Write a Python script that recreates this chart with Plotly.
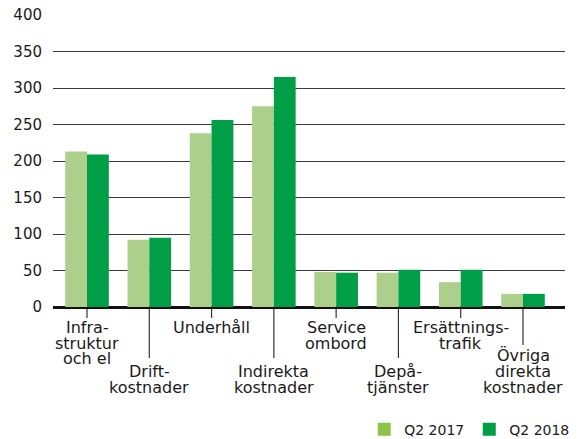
import plotly.graph_objects as go

# ---- data ----
categories = ["Infrastruktur och el", "Driftkostnader", "Underhåll", "Indirekta kostnader",
              "Service ombord", "Depåtjänster", "Ersättningstrafik", "Övriga direkta kostnader"]
label_lines = [["Infra-", "struktur", "och el"], ["Drift-", "kostnader"], ["Underhåll"],
               ["Indirekta", "kostnader"], ["Service", "ombord"], ["Depå-", "tjänster"],
               ["Ersättnings-", "trafik"], ["Övriga", "direkta", "kostnader"]]
q2_2017 = [213, 92, 238, 275, 48, 47, 34, 18]
q2_2018 = [209, 95, 256, 315, 47, 51, 51, 18]
series_names = ["Q2 2017", "Q2 2018"]
y_ticks = [0, 50, 100, 150, 200, 250, 300, 350, 400]

# ---- style ----
LIGHT_BAR = "#acd08b"
DARK_BAR = "#009e47"
LIGHT_LEG = "#8dc34a"
DARK_LEG = "#009e47"
FONT = "DejaVu Sans"
TXT = "#1a1a1a"
LINE_STEP = 15.7

fig = go.Figure()
fig.add_trace(go.Bar(x=categories, y=q2_2017, name=series_names[0], marker_color=LIGHT_BAR,
                     marker_line_width=0, showlegend=False))
fig.add_trace(go.Bar(x=categories, y=q2_2018, name=series_names[1], marker_color=DARK_BAR,
                     marker_line_width=0, showlegend=False))
# legend entries (legend swatches are brighter than bars)
for nm, col in zip(series_names, [LIGHT_LEG, DARK_LEG]):
    fig.add_trace(go.Scatter(x=[None], y=[None], mode="markers", name=nm,
                             marker=dict(symbol="square", size=13, color=col)))

annotations = []
shapes = []
for i, (cat, lines) in enumerate(zip(categories, label_lines)):
    lower = (i % 2 == 1)
    n = len(lines)
    if lower:
        # bottom-aligned block
        shifts = [-(80 - LINE_STEP * (n - 1 - k)) for k in range(n)]
        tick_len = 38 if n == 3 else 51
    else:
        shifts = [-(20.5 + LINE_STEP * k) for k in range(n)]
        tick_len = 11
    for k, ln in enumerate(lines):
        annotations.append(dict(x=cat, xref="x", y=0, yref="y", yshift=shifts[k],
                                text=ln, showarrow=False, xanchor="center", yanchor="middle",
                                font=dict(family=FONT, size=16, color=TXT)))
    shapes.append(dict(type="line", xref="x", yref="paper", x0=i, x1=i,
                       y0=0, y1=-tick_len / 292.0,
                       line=dict(color="#333333", width=1.2), layer="below"))

fig.update_layout(
    width=578, height=439,
    margin=dict(l=53, r=13, t=15, b=132, autoexpand=False),
    paper_bgcolor="white", plot_bgcolor="white",
    barmode="group", bargap=0.30, bargroupgap=0.0,
    font=dict(family=FONT, size=15, color=TXT),
    annotations=annotations, shapes=shapes,
    legend=dict(orientation="h", x=1.02, xanchor="right", y=-0.42, yanchor="middle",
                font=dict(family=FONT, size=14, color=TXT), itemwidth=30,
                bgcolor="rgba(0,0,0,0)", traceorder="normal"),
    xaxis=dict(showticklabels=False, showgrid=False, ticks="", showline=False,
               zeroline=False, fixedrange=True),
    yaxis=dict(range=[0, 400], tickvals=y_ticks, showgrid=True, gridcolor="#3a3a3a",
               gridwidth=1, zeroline=True, zerolinecolor="#111111", zerolinewidth=2.6,
               ticks="outside", ticklen=7, tickcolor="rgba(0,0,0,0)", showline=False,
               tickfont=dict(family=FONT, size=15, color=TXT)),
)

fig.write_html("out.html", config={"displayModeBar": False},
               post_script="document.body.style.margin='0';document.body.style.overflow='hidden';")
